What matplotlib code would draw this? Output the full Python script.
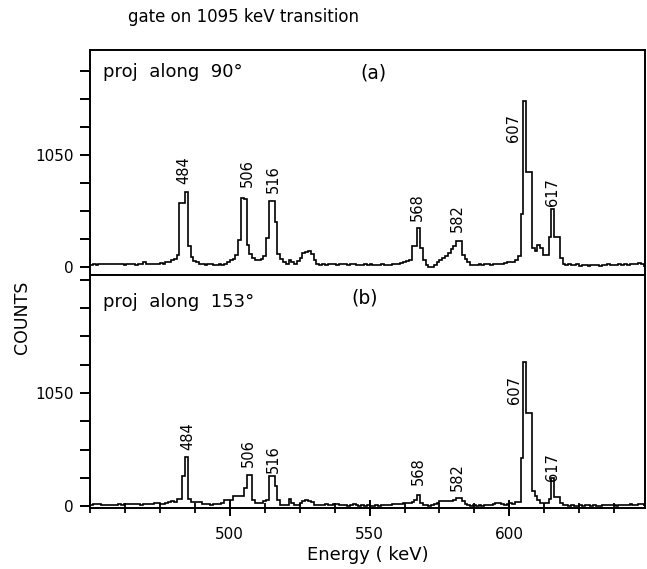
import matplotlib
matplotlib.use("Agg")
import matplotlib.pyplot as plt
from matplotlib.ticker import FixedLocator, MultipleLocator
import numpy as np

# spectrum data: one bin per keV, 450 ... 647 keV
edges = np.arange(450, 649)

counts_a = [
    20, 25, 20, 30, 25, 25, 30, 25, 30, 30,
    25, 30, 20, 25, 25, 30, 20, 25, 30, 40,
    30, 25, 25, 30, 30, 35, 30, 40, 45, 60,
    70, 110, 600, 600, 705, 190, 90, 50, 40, 30,
    25, 20, 30, 25, 15, 20, 25, 20, 30, 40,
    60, 70, 110, 250, 650, 640, 200, 120, 80, 60,
    60, 70, 100, 270, 615, 615, 420, 120, 70, 40,
    30, 60, 40, 30, 50, 80, 130, 140, 145, 120,
    60, 30, 20, 25, 20, 25, 30, 25, 20, 25,
    30, 25, 20, 25, 30, 20, 15, 20, 25, 20,
    25, 20, 15, 20, 25, 20, 15, 20, 25, 30,
    30, 35, 40, 50, 65, 195, 195, 360, 175, 65,
    20, -5, 0, 15, 40, 60, 80, 100, 130, 165,
    190, 240, 240, 110, 70, 40, 20, 15, 20, 25,
    20, 25, 30, 20, 25, 30, 25, 30, 35, 40,
    40, 45, 60, 100, 494, 1557, 887, 887, 175, 150,
    200, 175, 110, 110, 282, 542, 282, 282, 80, 30,
    20, 25, 15, 20, 25, 10, 15, 20, 10, 15,
    20, 15, 10, 15, 20, 25, 20, 15, 20, 25,
    20, 25, 20, 30, 25, 30, 35, 30,
]

counts_b = [
    15, 20, 25, 20, 15, 10, 10, 15, 10, 15,
    20, 15, 20, 25, 20, 20, 25, 20, 15, 20,
    20, 25, 20, 30, 35, 20, 25, 30, 40, 50,
    45, 68, 68, 278, 454, 68, 37, 37, 37, 37,
    20, 20, 20, 15, 20, 20, 25, 30, 62, 62,
    62, 93, 93, 93, 93, 170, 294, 294, 62, 31,
    31, 31, 50, 60, 278, 278, 192, 62, 15, 15,
    15, 68, 31, 15, 15, 30, 50, 60, 50, 40,
    15, 10, 15, 10, 20, 15, 10, 25, 20, 10,
    15, 10, 5, 10, 20, 10, 5, 10, 5, 10,
    5, 0, 10, 5, 10, 15, 10, 15, 20, 25,
    20, 25, 30, 31, 31, 40, 62, 108, 31, 10,
    10, 5, 10, 20, 31, 46, 46, 46, 46, 46,
    62, 77, 77, 46, 20, 10, 5, 10, 5, 10,
    5, 10, 15, 10, 20, 31, 31, 25, 10, 20,
    31, 20, 40, 40, 448, 1343, 865, 865, 139, 93,
    62, 31, 31, 31, 68, 263, 83, 83, 31, 10,
    10, 5, 10, 5, 0, 10, 5, 10, 15, 5,
    10, 5, 0, 10, 15, 10, 15, 10, 5, 15,
    10, 15, 10, 20, 15, 10, 25, 20,
]

# peak labels: text, energy position, count position
peak_names = ["484", "506", "516", "568", "582", "607", "617"]
peak_x_a = [483.6, 506.1, 515.4, 567.1, 581.4, 601.4, 615.4]
peak_y_a = [909, 881, 824, 561, 458, 1304, 702]
peak_x_b = [485.0, 506.8, 515.4, 567.5, 581.4, 601.8, 615.4]
peak_y_b = [655, 497, 442, 331, 275, 1081, 368]

W, H = 647, 569
fig = plt.figure(figsize=(W / 100, H / 100), dpi=100)
left = 90 / W
width = 555 / W
ax_a = fig.add_axes([left, 1 - 275 / H, width, 225 / H])
ax_b = fig.add_axes([left, 1 - 508 / H, width, 233 / H])

def style_axis(ax, ymin, ymax):
    ax.set_xlim(450, 648.5)
    ax.set_ylim(ymin, ymax)
    for s in ax.spines.values():
        s.set_linewidth(1.4)
    ax.yaxis.set_major_locator(FixedLocator([0, 1050]))
    ax.yaxis.set_minor_locator(MultipleLocator(262.5))
    ax.set_yticklabels(["0", "1050"])
    ax.tick_params(axis="y", which="both", direction="out", length=7, width=1.4,
                   labelsize=11, pad=5)

style_axis(ax_a, -78, 2037)
style_axis(ax_b, -15, 2145)

ax_a.stairs(counts_a, edges, color="black", linewidth=1.2)
ax_b.stairs(counts_b, edges, color="black", linewidth=1.2)

ax_a.tick_params(axis="x", which="both", bottom=False, labelbottom=False)
ax_b.xaxis.set_major_locator(FixedLocator([500, 550, 600]))
ax_b.xaxis.set_minor_locator(MultipleLocator(12.5))
ax_b.tick_params(axis="x", which="major", direction="inout", length=12, width=1.4,
                 labelsize=11, pad=8)
ax_b.tick_params(axis="x", which="minor", direction="inout", length=7, width=1.3)

for name, x, y in zip(peak_names, peak_x_a, peak_y_a):
    ax_a.text(x, y, name, rotation=90, ha="center", va="center", fontsize=10.5)
for name, x, y in zip(peak_names, peak_x_b, peak_y_b):
    ax_b.text(x, y, name, rotation=90, ha="center", va="center", fontsize=10.5)

ax_a.text(0.023, 0.902, "proj  along  90°", transform=ax_a.transAxes,
          ha="left", va="center", fontsize=13)
ax_a.text(0.51, 0.898, "(a)", transform=ax_a.transAxes,
          ha="center", va="center", fontsize=13.5)
ax_b.text(0.023, 0.884, "proj  along  153°", transform=ax_b.transAxes,
          ha="left", va="center", fontsize=13)
ax_b.text(0.495, 0.901, "(b)", transform=ax_b.transAxes,
          ha="center", va="center", fontsize=13.5)

fig.text(244 / W, 1 - 17 / H, "gate on 1095 keV transition", ha="center",
         va="center", fontsize=12)
fig.text(22 / W, 1 - 317 / H, "COUNTS", rotation=90, ha="center", va="center",
         fontsize=12.5)
fig.text(368 / W, 1 - 555 / H, "Energy ( keV)", ha="center", va="center",
         fontsize=13)

fig.savefig("out.png", dpi=100)
